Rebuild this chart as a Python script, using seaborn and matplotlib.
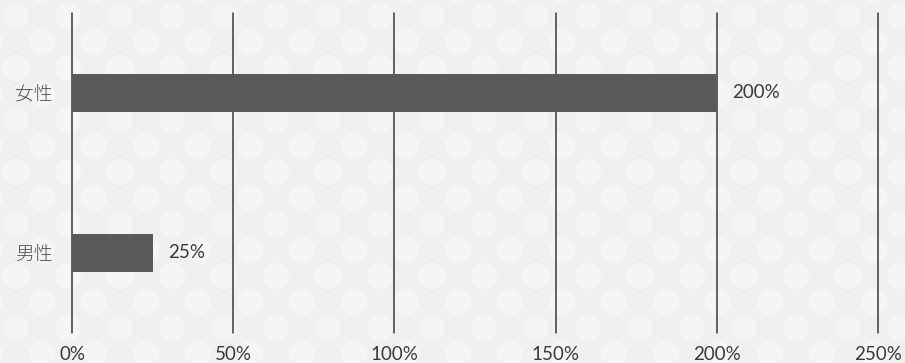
import numpy as np
import pandas as pd
import matplotlib
matplotlib.use("Agg")
import matplotlib.pyplot as plt
import seaborn as sns

# Data
categories = ["女性", "男性"]
values = [200, 25]
x_ticks = [0, 50, 100, 150, 200, 250]
x_tick_labels = ["0%", "50%", "100%", "150%", "200%", "250%"]

df = pd.DataFrame({"category": categories, "value": values})

sns.set_theme(style="white")
plt.rcParams["font.family"] = ["Lato", "Noto Sans CJK JP", "DejaVu Sans"]

W, H, DPI = 905, 363, 100
fig = plt.figure(figsize=(W / DPI, H / DPI), dpi=DPI)
fig.patch.set_facecolor("#f0f0f0")

# Decorative dotted background
bg = fig.add_axes([0, 0, 1, 1], zorder=-10)
bg.set_xlim(0, W)
bg.set_ylim(H, 0)
bg.axis("off")
step = 52
gx, gy = np.meshgrid(np.arange(-10, W + step, step), np.arange(-10, H + step, step / 2))
gx = gx + (np.arange(gx.shape[0])[:, None] % 2) * step / 2
bg.scatter(gx.ravel(), gy.ravel(), s=360, color="#f5f5f5", edgecolor="none")

ax = fig.add_axes([72 / W, 1 - 333 / H, (878 - 72) / W, (333 - 13) / H])
ax.set_facecolor("none")

sns.barplot(data=df, x="value", y="category", orient="h", color="#58595b",
            saturation=1, width=0.24, linewidth=0, ax=ax, zorder=3)

ax.set_xlim(0, 250)
ax.set_ylim(1.5, -0.5)
ax.set_xticks(x_ticks)
ax.set_xticklabels(x_tick_labels)
for x in x_ticks:
    ax.axvline(x, color="#3a3a3a", lw=1.1, zorder=1, clip_on=False)

for sp in ax.spines.values():
    sp.set_visible(False)

ax.set_xlabel("")
ax.set_ylabel("")
ax.tick_params(axis="x", length=0, pad=9, labelsize=13.5, labelcolor="#3a3a3a")
ax.tick_params(axis="y", length=0, pad=14, labelsize=13.5, labelcolor="#505050")
for lab in ax.get_yticklabels():
    lab.set_family(["Noto Sans CJK JP", "DejaVu Sans"])
    lab.set_fontweight("light")

for i, v in enumerate(values):
    ax.annotate(f"{v}%", xy=(v, i), xytext=(11, 0), textcoords="offset points",
                va="center", ha="left", fontsize=13.5, color="#3a3a3a")

fig.savefig("out.png", dpi=DPI, facecolor=fig.get_facecolor())
